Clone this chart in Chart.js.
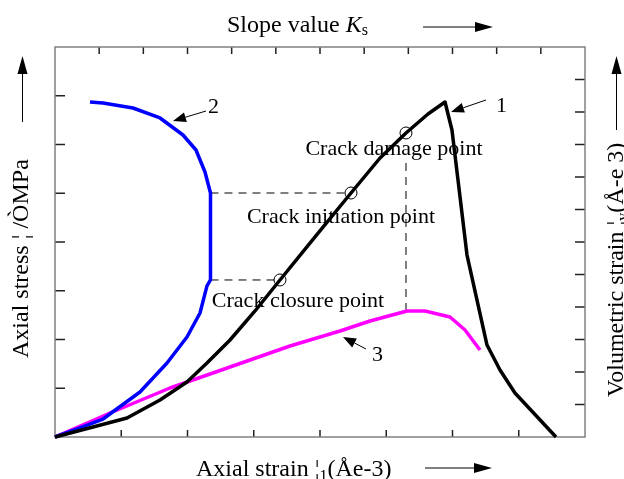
<!DOCTYPE html>
<html>
<head>
<meta charset="utf-8">
<script src="https://cdn.jsdelivr.net/npm/chart.js@4.4.0/dist/chart.umd.min.js"></script>
<style>
  html, body { margin: 0; padding: 0; background: #fff; }
  #wrap { width: 624px; height: 479px; }
</style>
</head>
<body>
<div id="wrap"><canvas id="chart" width="624" height="479"></canvas></div>
<script>
// Curve 1: axial stress vs axial strain (black)
const stressX = [0, 0.574, 1.087, 1.585, 1.992, 2.294, 2.642, 3.019, 3.396, 3.925, 4.468, 4.906, 5.298, 5.630, 5.887, 5.992, 6.083, 6.219, 6.521, 6.717, 6.943, 7.562];
const stressY = [0, 0.205, 0.390, 0.759, 1.128, 1.518, 1.990, 2.585, 3.221, 4.103, 5.005, 5.723, 6.236, 6.626, 6.872, 6.297, 5.272, 3.733, 1.887, 1.374, 0.903, 0];

// Curve 2: slope value Ks (blue)
const slopeX = [0, 0.377, 0.725, 1.283, 1.691, 1.992, 2.189, 2.294, 2.347, 2.347, 2.264, 2.128, 1.932, 1.585, 1.177, 0.725, 0.528];
const slopeY = [0, 0.185, 0.369, 0.923, 1.518, 2.051, 2.544, 3.100, 3.221, 5.005, 5.436, 5.887, 6.195, 6.544, 6.749, 6.851, 6.872];

// Curve 3: volumetric strain (magenta)
const volX = [0, 0.830, 1.736, 2.642, 3.547, 4.302, 4.755, 5.313, 5.585, 5.962, 6.189, 6.415];
const volY = [0, 0.492, 1.005, 1.436, 1.867, 2.174, 2.379, 2.585, 2.585, 2.462, 2.195, 1.785];

// Characteristic points: closure, initiation, damage
const crackX = [3.396, 4.468, 5.298];
const crackY = [3.221, 5.005, 6.236];
const dashStartX = 2.347;          // where the dashed guides meet curve 2
const damageDashY = [2.585, 5.74]; // vertical guide under the damage point

const toPts = (xs, ys) => xs.map((x, i) => ({ x: x, y: ys[i] }));

const SERIF = '"Liberation Serif", "Times New Roman", serif';

function arrow(ctx, x1, y1, x2, y2, len, half) {
    const ang = Math.atan2(y2 - y1, x2 - x1);
    const bx = x2 - len * Math.cos(ang);
    const by = y2 - len * Math.sin(ang);
    ctx.beginPath();
    ctx.moveTo(x1, y1);
    ctx.lineTo(bx, by);
    ctx.stroke();
    ctx.beginPath();
    ctx.moveTo(x2, y2);
    ctx.lineTo(bx + half * Math.sin(ang), by - half * Math.cos(ang));
    ctx.lineTo(bx - half * Math.sin(ang), by + half * Math.cos(ang));
    ctx.closePath();
    ctx.fill();
}

// draw a run of text pieces with different fonts / offsets
function runs(ctx, x, y, parts) {
    let cx = x;
    parts.forEach(p => {
        ctx.font = p.font;
        ctx.fillText(p.t, cx, y + (p.dy || 0));
        cx += ctx.measureText(p.t).width;
    });
}

const framePlugin = {
    id: 'frame',
    beforeDatasetsDraw(chart) {
        const { ctx, chartArea: a, scales } = chart;
        ctx.save();
        ctx.lineWidth = 1.5;
        ctx.strokeStyle = '#222';
        const tick = (x1, y1, x2, y2) => {
            ctx.beginPath(); ctx.moveTo(x1, y1); ctx.lineTo(x2, y2); ctx.stroke();
        };
        scales.x.ticks.forEach(t => {
            const p = scales.x.getPixelForValue(t.value);
            if (p > a.left + 1 && p < a.right - 1) tick(p, a.bottom, p, a.bottom - 7);
        });
        scales.x2.ticks.forEach(t => {
            const p = scales.x2.getPixelForValue(t.value);
            if (p > a.left + 1 && p < a.right - 1) tick(p, a.top, p, a.top + 7);
        });
        scales.y.ticks.forEach(t => {
            const p = scales.y.getPixelForValue(t.value);
            if (p > a.top + 1 && p < a.bottom - 1) tick(a.left, p, a.left + 10, p);
        });
        scales.y2.ticks.forEach(t => {
            const p = scales.y2.getPixelForValue(t.value);
            if (p > a.top + 1 && p < a.bottom - 1) tick(a.right, p, a.right - 10, p);
        });
        ctx.strokeStyle = '#808080';
        ctx.strokeRect(a.left, a.top, a.right - a.left, a.bottom - a.top);
        ctx.restore();
    },
    afterDraw(chart) {
        const ctx = chart.ctx;
        ctx.save();
        ctx.fillStyle = '#000';
        ctx.strokeStyle = '#000';
        ctx.textBaseline = 'alphabetic';

        // point labels
        ctx.font = '22px ' + SERIF;
        ctx.textAlign = 'center';
        ctx.fillText('Crack damage point', 394, 155);
        ctx.fillText('Crack initiation point', 341, 223);
        ctx.fillText('Crack closure point', 298, 307);

        // curve numbers with arrows
        ctx.textAlign = 'left';
        ctx.fillText('1', 496, 112);
        ctx.fillText('2', 208, 113);
        ctx.fillText('3', 372, 361);
        ctx.lineWidth = 1;
        arrow(ctx, 486, 100, 451, 112, 13, 5);
        arrow(ctx, 206, 111, 173, 121, 13, 5);
        arrow(ctx, 366, 349, 343, 337, 13, 5);

        // axis titles
        const big = '24px ' + SERIF;
        const sub = '16px ' + SERIF;
        runs(ctx, 227, 32, [
            { t: 'Slope value ', font: big },
            { t: 'K', font: 'italic 24px ' + SERIF },
            { t: 's', font: sub, dy: 3 }
        ]);
        arrow(ctx, 423, 27, 493, 27, 18, 5);

        runs(ctx, 196, 476, [
            { t: 'Axial strain ¦', font: big },
            { t: '1', font: sub, dy: 5 },
            { t: '(Åe-3)', font: big }
        ]);
        arrow(ctx, 425, 468, 492, 468, 18, 5);

        ctx.save();
        ctx.translate(28, 358);
        ctx.rotate(-Math.PI / 2);
        runs(ctx, 0, 0, [{ t: 'Axial stress ¦ /ÒMPa', font: big }]);
        ctx.restore();
        arrow(ctx, 22.5, 122, 22.5, 56, 18, 5);

        ctx.save();
        ctx.translate(623, 397);
        ctx.rotate(-Math.PI / 2);
        runs(ctx, 0, 0, [
            { t: 'Volumetric strain ¦', font: big },
            { t: 'v', font: sub, dy: 5 },
            { t: '(Å-e 3)', font: big }
        ]);
        ctx.restore();
        arrow(ctx, 616.5, 130, 616.5, 56, 18, 5);

        ctx.restore();
    }
};

const dashStyle = {
    borderColor: '#000',
    borderWidth: 1,
    borderDash: [8, 6],
    pointRadius: 0,
    showLine: true,
    fill: false
};

new Chart(document.getElementById('chart'), {
    type: 'scatter',
    data: {
        datasets: [
            {
                label: 'Crack points',
                data: toPts(crackX, crackY),
                pointRadius: 6,
                pointBorderWidth: 1,
                pointBorderColor: '#000',
                pointBackgroundColor: 'rgba(0,0,0,0)',
                showLine: false
            },
            {
                label: 'Axial stress',
                data: toPts(stressX, stressY),
                borderColor: '#000',
                borderWidth: 3.5,
                pointRadius: 0,
                showLine: true,
                borderJoinStyle: 'round'
            },
            {
                label: 'Slope value',
                data: toPts(slopeX, slopeY),
                borderColor: '#0000ff',
                borderWidth: 3.5,
                pointRadius: 0,
                showLine: true,
                borderJoinStyle: 'round'
            },
            {
                label: 'Volumetric strain',
                data: toPts(volX, volY),
                borderColor: '#ff00ff',
                borderWidth: 3.5,
                pointRadius: 0,
                showLine: true,
                borderJoinStyle: 'round'
            },
            Object.assign({ data: [{ x: dashStartX, y: crackY[0] }, { x: crackX[0], y: crackY[0] }] }, dashStyle),
            Object.assign({ data: [{ x: dashStartX, y: crackY[1] }, { x: crackX[1], y: crackY[1] }] }, dashStyle),
            Object.assign({ data: toPts([crackX[2], crackX[2]], damageDashY) }, dashStyle)
        ]
    },
    options: {
        responsive: false,
        animation: false,
        devicePixelRatio: 1,
        clip: false,
        layout: { padding: { left: 55, right: 39, top: 47, bottom: 42 } },
        plugins: { legend: { display: false }, tooltip: { enabled: false } },
        scales: {
            x: { type: 'linear', position: 'bottom', min: 0, max: 8, display: false, ticks: { stepSize: 1 } },
            y: { type: 'linear', position: 'left', min: 0, max: 8, display: false, ticks: { stepSize: 1 } },
            x2: { type: 'linear', position: 'top', min: 0, max: 12, display: false, ticks: { stepSize: 1 } },
            y2: { type: 'linear', position: 'right', min: 0, max: 12, display: false, ticks: { stepSize: 1 } }
        }
    },
    plugins: [framePlugin]
});
</script>
</body>
</html>
